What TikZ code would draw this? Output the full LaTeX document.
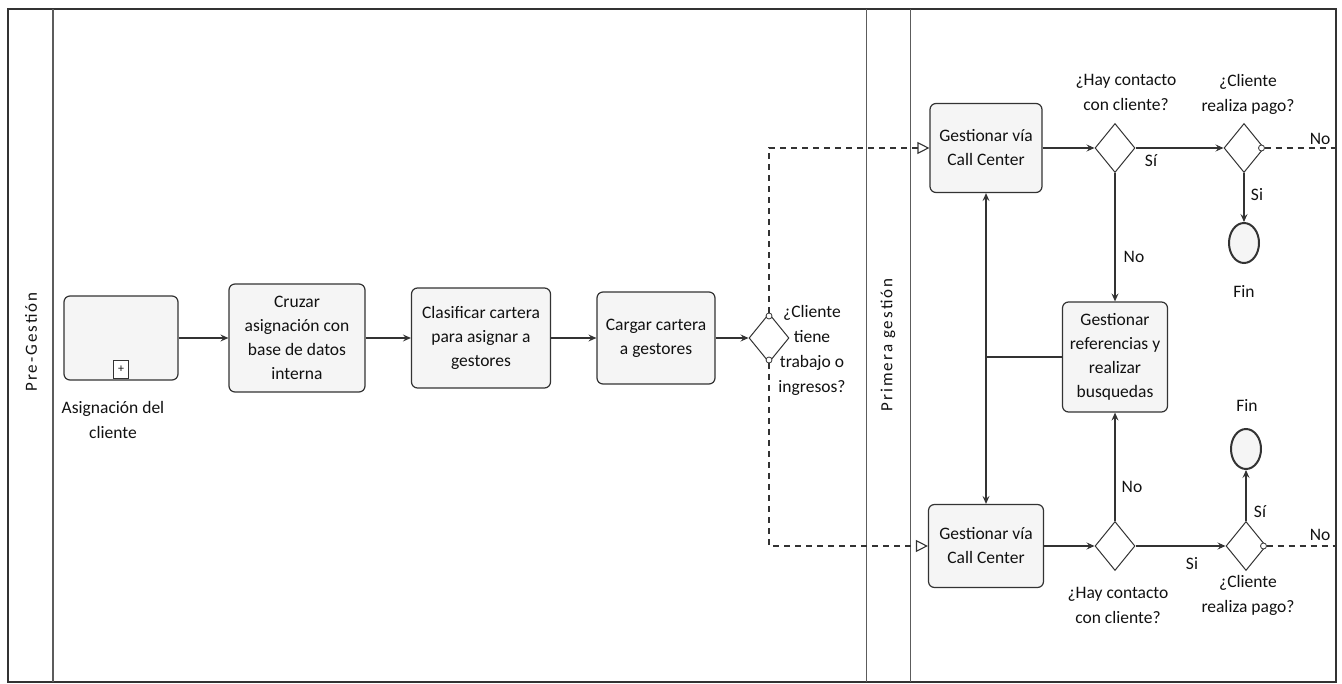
\documentclass[tikz,border=0pt]{standalone}
\usepackage{fontspec}
\setmainfont{Carlito}
\newfontfamily\poolfont[LetterSpace=12]{Carlito}
\usetikzlibrary{arrows.meta,shapes.geometric,calc}
\definecolor{linec}{HTML}{333333}
\definecolor{txtc}{HTML}{111111}
\definecolor{boxfill}{HTML}{F5F5F5}
\begin{document}
\begin{tikzpicture}[x=1pt,y=-1pt,
  task/.style={draw=linec, line width=1.2pt, rounded corners=6pt, fill=boxfill, align=center, inner sep=0pt, text=txtc, font=\fontsize{17.5}{24}\selectfont},
  gw/.style={diamond, draw=linec, line width=1pt, fill=white, minimum width=40pt, minimum height=49pt, inner sep=0pt},
  endev/.style={ellipse, draw=linec, line width=2pt, fill=boxfill, minimum width=30pt, minimum height=40pt, inner sep=0pt},
  lbl/.style={align=center, text=txtc, font=\fontsize{17.5}{25}\selectfont, inner sep=0pt},
  flow/.style={draw=linec, line width=1.1pt, -{Stealth[length=8pt,width=7pt,inset=3pt]}},
  cond/.style={draw=linec, line width=1.1pt, dash pattern=on 6pt off 5pt},
  msgtip/.style={-{Triangle[open,length=12pt,width=12pt]}},
  smallc/.style={circle, draw=linec, line width=0.8pt, fill=white, minimum size=6pt, inner sep=0pt},
  poollbl/.style={rotate=90, text=txtc, font=\poolfont\fontsize{17}{20}\selectfont, inner sep=0pt},
  lane/.style={draw=linec!80, line width=1pt}
]
\useasboundingbox (0,0) rectangle (1342,684);
% frame and lanes
\draw[draw=linec, line width=1.5pt] (8,9) rectangle (1336,682);
\draw[lane, line width=1.3pt] (53,9) -- (53,682);
\draw[lane] (866,9) -- (866,682);
\draw[lane] (910,9) -- (910,682);
\node[poollbl] (p1) at (31,342) {Pre-Gestión};
\node[poollbl] (p2) at (888,345) {Primera gestión};

% Pre-Gestion
\node[task, minimum width=114pt, minimum height=84pt] (asig) at (121,338) {};
\node[draw=linec, line width=0.8pt, fill=white, minimum width=15pt, minimum height=18pt, inner sep=0pt, anchor=south, font=\fontsize{12}{12}\selectfont, text=txtc] (plus) at ($(asig.south)+(0,-2)$) {+};
\node[lbl] (asiglbl) at (113,420) {Asignación del\\cliente};
\node[task, minimum width=136pt, minimum height=108pt] (cruzar) at (297,338) {Cruzar\\asignación con\\base de datos\\interna};
\node[task, minimum width=139pt, minimum height=100pt] (clasif) at (481,338) {Clasificar cartera\\para asignar a\\gestores};
\node[task, minimum width=118pt, minimum height=92pt] (cargar) at (656,338) {Cargar cartera\\a gestores};
\node[gw] (g1) at (769,338) {};
\node[lbl] (g1l) at (812,350) {¿Cliente\\tiene\\trabajo o\\ingresos?};

% Primera gestion
\node[task, minimum width=112pt, minimum height=89pt] (gc1) at (986,148) {Gestionar vía\\Call Center};
\node[task, minimum width=115pt, minimum height=83pt] (gc2) at (986,546) {Gestionar vía\\Call Center};
\node[task, minimum width=105pt, minimum height=110pt] (ref) at (1115,357) {Gestionar\\referencias y\\realizar\\busquedas};
\node[gw] (g2) at (1115,148) {};
\node[gw] (g3) at (1244,148) {};
\node[gw] (g4) at (1115,546) {};
\node[gw] (g5) at (1246,546) {};
\node[endev] (f1) at (1244,243) {};
\node[endev] (f2) at (1246,449) {};
\coordinate (e1) at (1336,148);
\coordinate (e2) at (1336,546);

\node[lbl] (l1) at (1126,92) {¿Hay contacto\\con cliente?};
\node[lbl] (l2) at (1248,94) {¿Cliente\\realiza pago?};
\node[lbl] (l3) at (1118,605) {¿Hay contacto\\con cliente?};
\node[lbl] (l4) at (1248,595) {¿Cliente\\realiza pago?};
\node[lbl] (fl1) at (1244,291) {Fin};
\node[lbl] (fl2) at (1247,405) {Fin};
\node[lbl] (s1) at (1151,161) {Sí};
\node[lbl] (s2) at (1257,195) {Si};
\node[lbl] (n1) at (1134,257) {No};
\node[lbl] (n2) at (1320,139) {No};
\node[lbl] (n3) at (1132,487) {No};
\node[lbl] (s3) at (1192,564) {Si};
\node[lbl] (s4) at (1260,512) {Sí};
\node[lbl] (n4) at (1320,535) {No};

% connectors
\draw[flow] (asig) -- (cruzar);
\draw[flow] (cruzar) -- (clasif);
\draw[flow] (clasif) -- (cargar);
\draw[flow] (cargar) -- (g1);
\draw[cond, msgtip] (g1.north) |- (gc1.west);
\draw[cond, msgtip] (g1.south) |- (gc2.west);
\node[smallc] (c1) at ($(g1.north)+(0,3)$) {};
\node[smallc] (c2) at ($(g1.south)+(0,-3)$) {};

\draw[flow] (gc1) -- (g2);
\draw[flow] (g2) -- (g3);
\draw[flow] (g2) -- (ref);
\draw[flow] (g3) -- (f1);
\draw[cond] (g3.east) -- (e1);
\node[smallc] (c3) at ($(g3.east)+(-3,0)$) {};
\draw[flow] (ref.west) -| (gc1.south);
\draw[flow] (ref.west) -| (gc2.north);
\draw[flow] (gc2) -- (g4);
\draw[flow] (g4) -- (ref);
\draw[flow] (g4) -- (g5);
\draw[flow] (g5) -- (f2);
\draw[cond] (g5.east) -- (e2);
\node[smallc] (c4) at ($(g5.east)+(-3,0)$) {};
\end{tikzpicture}
\end{document}
